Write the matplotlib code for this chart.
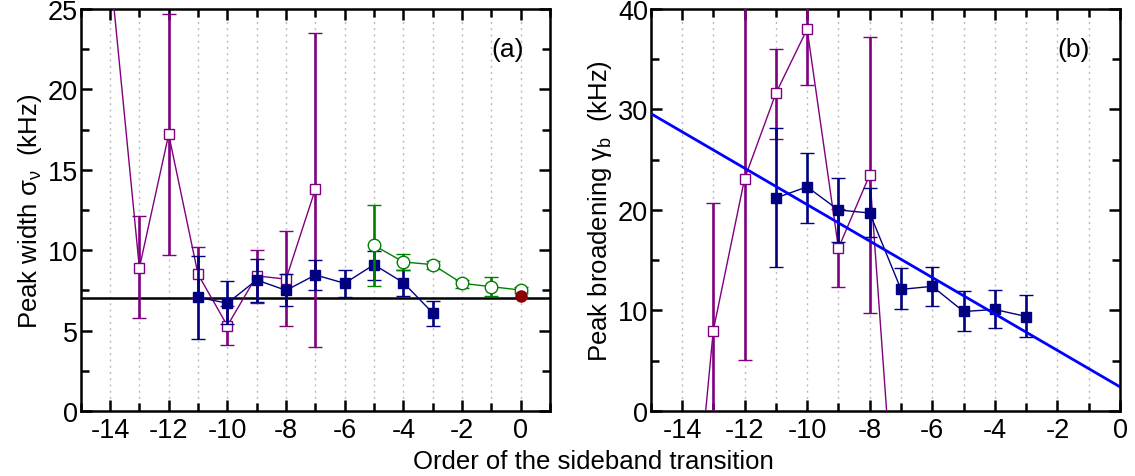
import matplotlib
matplotlib.use("Agg")
import matplotlib.pyplot as plt
import numpy as np
from matplotlib.ticker import MultipleLocator

plt.rcParams['font.family'] = ['Liberation Sans', 'DejaVu Sans']
plt.rcParams['mathtext.fontset'] = 'custom'
plt.rcParams['mathtext.rm'] = 'Liberation Sans'
plt.rcParams['axes.unicode_minus'] = False

# ---- panel (a): peak width ----
a_pur_x = [-14, -13, -12, -11, -10, -9, -8, -7]
a_pur_y = [27.6, 8.9, 17.2, 8.5, 5.3, 8.4, 8.2, 13.8]
a_pur_lo = [27.6, 5.8, 9.7, 7.0, 4.1, 6.7, 5.3, 4.0]
a_pur_hi = [27.6, 12.1, 24.7, 10.2, 6.5, 10.0, 11.2, 23.5]

a_blu_x = [-11, -10, -9, -8, -7, -6, -5, -4, -3]
a_blu_y = [7.07, 6.7, 8.15, 7.5, 8.46, 7.94, 9.1, 7.98, 6.1]
a_blu_lo = [4.48, 5.4, 6.8, 6.5, 7.5, 7.1, 8.17, 7.13, 5.3]
a_blu_hi = [9.66, 8.07, 9.45, 8.5, 9.4, 8.77, 9.97, 8.79, 6.86]

a_grn_x = [-5, -4, -3, -2, -1, 0]
a_grn_y = [10.3, 9.27, 9.1, 7.94, 7.73, 7.52]
a_grn_lo = [7.75, 8.77, 8.83, 7.67, 7.17, 7.32]
a_grn_hi = [12.83, 9.74, 9.35, 8.17, 8.35, 7.73]

a_red_x = [0]
a_red_y = [7.17]
a_ref_level = 7.0

# ---- panel (b): peak broadening ----
b_pur_x = [-14, -13, -12, -11, -10, -9, -8, -7]
b_pur_y = [-25.0, 8.0, 23.1, 31.6, 38.0, 16.2, 23.5, -20.0]
b_pur_lo = [-25.0, -5.0, 5.1, 27.1, 32.4, 12.3, 9.75, -20.0]
b_pur_hi = [-25.0, 20.7, 45.0, 36.0, 44.0, 20.1, 37.2, -20.0]

b_blu_x = [-11, -10, -9, -8, -7, -6, -5, -4, -3]
b_blu_y = [21.2, 22.3, 20.0, 19.7, 12.1, 12.4, 9.9, 10.1, 9.4]
b_blu_lo = [14.3, 18.7, 16.8, 17.3, 10.1, 10.4, 8.0, 8.3, 7.4]
b_blu_hi = [28.2, 25.7, 23.2, 22.2, 14.2, 14.3, 11.9, 12.0, 11.5]

fit_x = [-15, 0]
fit_y = [29.6, 2.4]

PURPLE = '#800080'
NAVY = '#000080'
GREEN = '#008000'
DRED = '#8B0000'


def errs(y, lo, hi):
    y, lo, hi = np.array(y), np.array(lo), np.array(hi)
    return [y - lo, hi - y]


def series(ax, x, y, lo, hi, color, mfc, marker, ms, z):
    ax.errorbar(x, y, yerr=errs(y, lo, hi), color=color, lw=1.0,
                elinewidth=1.9, capsize=5, capthick=1.9,
                marker=marker, ms=ms, mfc=mfc, mec=color, mew=1.0, zorder=z)


def style(ax, xlim, ylim, ymaj, ymin):
    ax.set_xlim(*xlim)
    ax.set_ylim(*ylim)
    ax.xaxis.set_major_locator(MultipleLocator(2))
    ax.xaxis.set_minor_locator(MultipleLocator(1))
    ax.yaxis.set_major_locator(MultipleLocator(ymaj))
    ax.yaxis.set_minor_locator(MultipleLocator(ymin))
    ax.tick_params(which='both', direction='in', top=True, right=True, width=1.8,
                   labelsize=19.5)
    ax.tick_params(which='major', length=8)
    ax.tick_params(which='minor', length=6)
    ax.tick_params(axis='x', pad=4)
    ax.tick_params(axis='y', pad=2)
    for s in ax.spines.values():
        s.set_linewidth(1.8)
    for gx in np.arange(np.ceil(xlim[0]), xlim[1] + 0.01, 1):
        ax.axvline(gx, color='#bbbbbb', lw=1.0, ls=(0, (1.5, 3)), zorder=0)


fig = plt.figure(figsize=(11.35, 4.77), dpi=100)
ax1 = fig.add_axes([0.0711, 0.1363, 0.4135, 0.8428])
ax2 = fig.add_axes([0.5733, 0.1363, 0.4135, 0.8428])

# (a)
style(ax1, (-15, 1), (0, 25), 5, 2.5)
ax1.axhline(a_ref_level, color='black', lw=1.8, zorder=2)
series(ax1, a_pur_x, a_pur_y, a_pur_lo, a_pur_hi, PURPLE, 'white', 's', 7, 3)
series(ax1, a_blu_x, a_blu_y, a_blu_lo, a_blu_hi, NAVY, NAVY, 's', 7.5, 4)
series(ax1, a_grn_x, a_grn_y, a_grn_lo, a_grn_hi, GREEN, 'white', 'o', 9, 5)
ax1.plot(a_red_x, a_red_y, 'o', color=DRED, ms=8, zorder=6)
ax1.set_ylabel(r'Peak width $\mathregular{\sigma_{\nu}}$  (kHz)', fontsize=18.5, labelpad=3)
ax1.text(0.91, 0.9, '(a)', transform=ax1.transAxes, fontsize=19,
         ha='center', va='center')

# (b)
style(ax2, (-15, 0), (0, 40), 10, 5)
series(ax2, b_pur_x, b_pur_y, b_pur_lo, b_pur_hi, PURPLE, 'white', 's', 7, 3)
series(ax2, b_blu_x, b_blu_y, b_blu_lo, b_blu_hi, NAVY, NAVY, 's', 7.5, 4)
ax2.plot(fit_x, fit_y, color='#0000ff', lw=2.0, zorder=5, clip_on=True)
ax2.set_ylabel(r'Peak broadening $\mathregular{\gamma_b}$  (kHz)', fontsize=18.5, labelpad=3)
ax2.text(0.90, 0.9, '(b)', transform=ax2.transAxes, fontsize=19,
         ha='center', va='center')

fig.text(0.523, 0.032, 'Order of the sideband transition', fontsize=18.5,
         ha='center', va='center')

fig.savefig('out.png', dpi=100)
